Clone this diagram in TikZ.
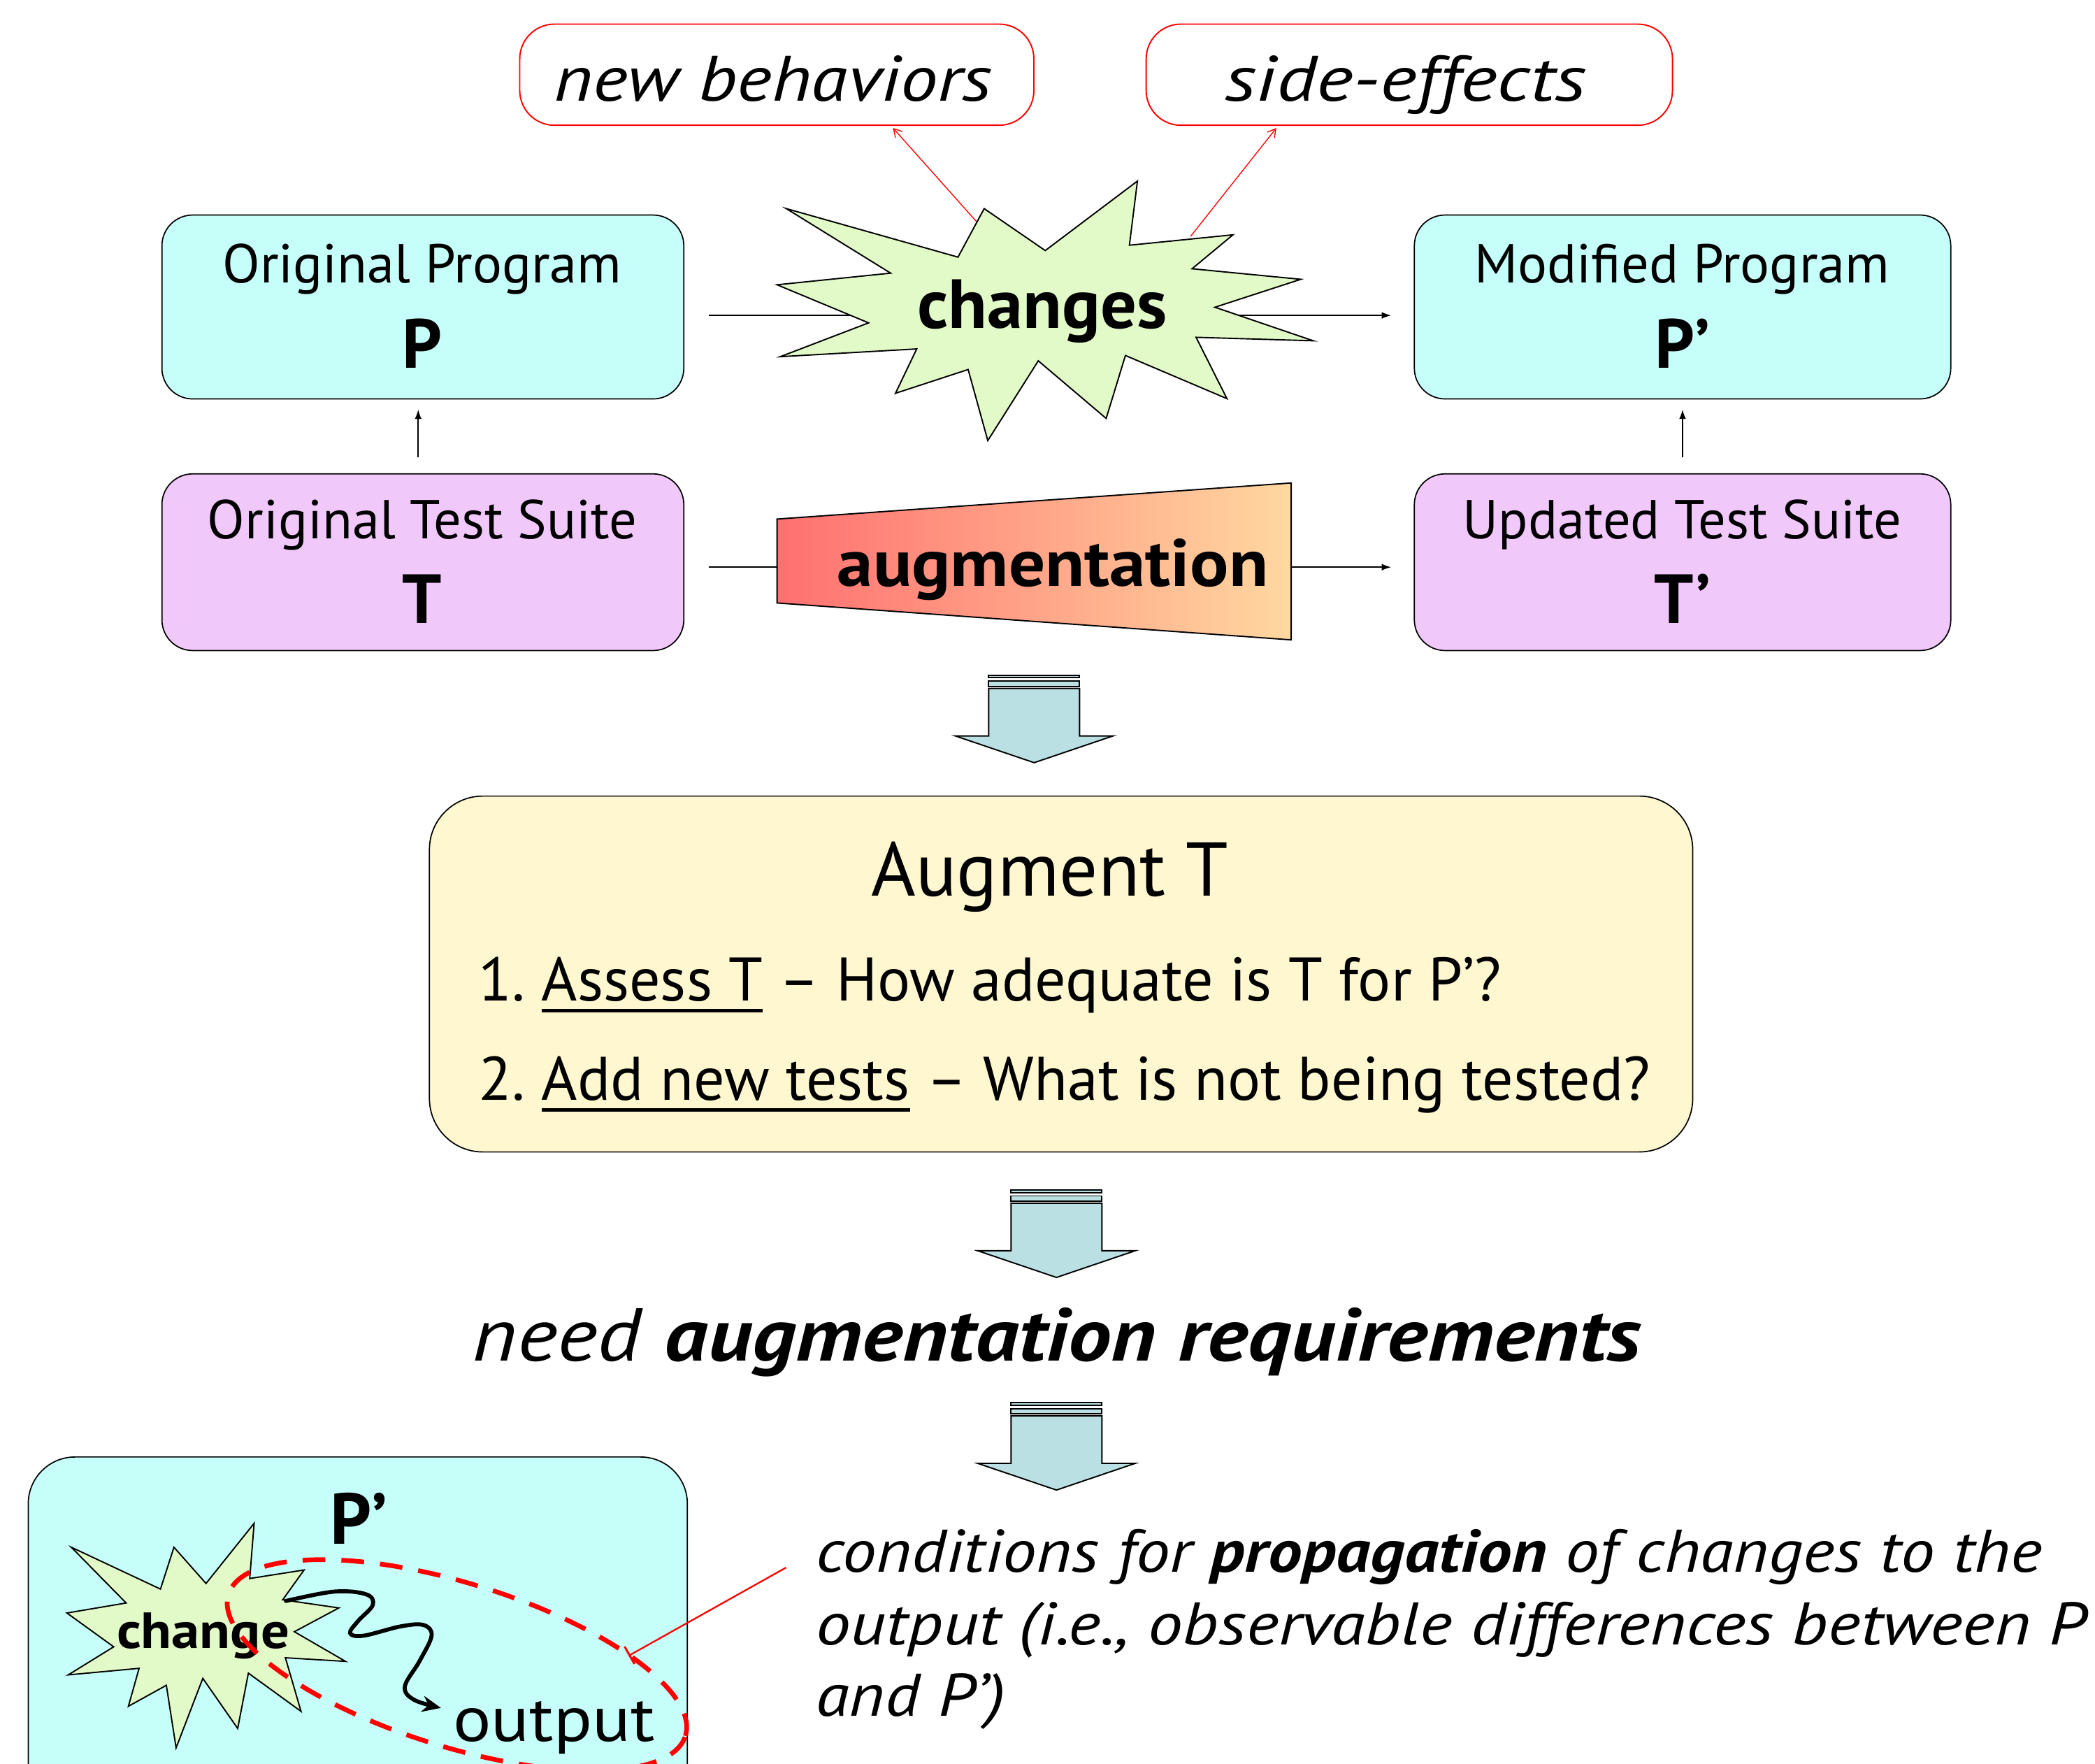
\documentclass[tikz,border=0pt]{standalone}
\usepackage{fontspec}
\usepackage{graphicx}
\setmainfont{PT Sans}
\usetikzlibrary{arrows.meta}
\definecolor{cyanbox}{RGB}{198,255,249}
\definecolor{lavbox}{RGB}{240,200,250}
\definecolor{starfill}{RGB}{226,250,200}
\definecolor{yelbox}{RGB}{255,247,208}
\definecolor{arrfill}{RGB}{187,224,227}
\definecolor{gradL}{RGB}{255,112,112}
\definecolor{gradR}{RGB}{255,216,160}
\newcommand\fs[1]{\fontsize{#1}{#1}\selectfont}
\newcommand\hs[2]{\scalebox{#1}[1]{#2}}
\newcommand\ulbar[1]{\setbox0=\hbox{#1}\vtop{\hbox{\copy0}\kern5.5pt\hrule height 2.6pt}}
\newcommand\blockarr[2]{%
  \draw[barr] (#1-34,#2-65.5) rectangle (#1+34,#2-63.5);
  \draw[barr] (#1-34,#2-61) rectangle (#1+34,#2-57);
  \draw[barr] (#1-34,#2-55.5) -- (#1+34,#2-55.5) -- (#1+34,#2-20) -- (#1+59,#2-20)
     -- (#1,#2) -- (#1-59,#2-20) -- (#1-34,#2-20) -- cycle;}
\begin{document}
\begin{tikzpicture}[x=1pt,y=-1pt,
  box/.style={draw=black, line width=0.9pt, rounded corners=23pt, inner sep=0pt},
  redbox/.style={draw=red, line width=1pt, rounded corners=26pt, fill=white, inner sep=0pt, minimum height=75.7pt},
  txt/.style={inner sep=0pt, anchor=base},
  conn/.style={line width=0.8pt, -{Latex[length=7pt,width=5pt]}},
  redarr/.style={draw=red, line width=0.7pt, -{Straight Barb[length=6pt,width=7pt]}},
  barr/.style={draw=black, line width=1pt, fill=arrfill, line join=miter},
  starsty/.style={fill=starfill, draw=black, line width=1pt, line join=miter}]
\useasboundingbox (0,0) rectangle (1568,1320);

% top red boxes
\node[redbox, minimum width=384.8pt] (nb) at (581.4,55.9) {};
\node[redbox, minimum width=393.9pt] (se) at (1054.8,55.9) {};
\node[txt, font=\fs{48}\itshape] (nbt) at (578.5,75.4) {\hs{1.165}{new behaviors}};
\node[txt, font=\fs{48}\itshape] (set) at (1052,75.4) {\hs{1.23}{side-effects}};

% program / test boxes
\node[box, fill=cyanbox, minimum width=390.6pt, minimum height=137.6pt] (op) at (316.5,229.7) {};
\node[box, fill=cyanbox, minimum width=401.5pt, minimum height=137.6pt] (mp) at (1259.3,229.7) {};
\node[box, fill=lavbox, minimum width=390.6pt, minimum height=132.2pt] (ot) at (316.5,420.7) {};
\node[box, fill=lavbox, minimum width=401.5pt, minimum height=132.2pt] (ut) at (1259.3,420.7) {};

\node[txt, font=\fs{41}] (opt) at (316,211.5) {Original Program};
\node[txt, font=\fs{52}\bfseries] (opp) at (316,275.4) {P};
\node[txt, font=\fs{41}] (ott) at (316,403) {Original Test Suite};
\node[txt, font=\fs{52}\bfseries] (otp) at (316,466.3) {T};
\node[txt, font=\fs{41}] (mpt) at (1259,211.5) {Modified Program};
\node[txt, font=\fs{52}\bfseries] (mpp) at (1259.3,275.4) {P’};
\node[txt, font=\fs{41}] (utt) at (1259,403) {Updated Test Suite};
\node[txt, font=\fs{52}\bfseries] (utp) at (1259.3,466.3) {T’};

% connectors
\draw[conn, shorten <=18.2pt, shorten >=16.9pt] ([yshift=-6.3pt]op.east) -- ([yshift=-6.3pt]mp.west);
\draw[conn, shorten <=18.2pt, shorten >=16.9pt] ([yshift=-3.7pt]ot.east) -- ([yshift=-3.7pt]ut.west);
\draw[conn, shorten <=12pt, shorten >=7.5pt] ([xshift=-3.5pt]ot.north) -- ([xshift=-3.5pt]op.south);
\draw[conn, shorten <=12pt, shorten >=7.5pt] (ut.north) -- (mp.south);

\coordinate (s1) at (731,166);
\coordinate (s2) at (891,177);
\draw[redarr, shorten >=2pt] (s1) -- ([xshift=85.6pt]nb.south);
\draw[redarr, shorten >=2pt] (s2) -- ([xshift=-98.3pt]se.south);

% changes star
\filldraw[starsty] (588.5,156.1) -- (717.0,192.4) -- (736.6,156.1) -- (782.3,187.5)
  -- (851.3,135.5) -- (845.3,183.5) -- (922.8,175.7) -- (892.2,201.1) -- (973.6,209)
  -- (909.3,229.9) -- (982.9,255) -- (895.2,252.4) -- (918.3,298.3) -- (842.3,266)
  -- (827.9,313.1) -- (777.1,270) -- (739.3,329.7) -- (724.6,276.5) -- (670.2,294.3)
  -- (686.1,261.1) -- (584,266.9) -- (650.1,241.6) -- (581.6,213.1) -- (666.6,204.4) -- cycle;
\node[txt, font=\fs{52}\bfseries] (chg) at (780,245.6) {\hs{1.03}{changes}};

% augmentation trapezoid
\shadedraw[left color=gradL, right color=gradR, draw=black, line width=1pt]
  (581.6,388.4) -- (966.4,361.4) -- (966.4,478.8) -- (581.6,451.2) -- cycle;
\node[txt, font=\fs{50}\bfseries] (augw) at (788,438.7) {\hs{1.08}{augmentation}};

% block arrows
\blockarr{774}{570.7}
\blockarr{790.7}{955.9}
\blockarr{790.7}{1115}

% Augment T box
\node[box, fill=yelbox, rounded corners=40pt, minimum width=945.5pt, minimum height=266.3pt] (aug) at (794.15,728.85) {};
\node[txt, font=\fs{57}] (augt) at (785.7,670.7) {Augment T};
\node[txt, anchor=base west, font=\fs{46}] (l1) at (358,749) {1.\ \ulbar{Assess T} -- How adequate is T for P’?};
\node[txt, anchor=base west, font=\fs{46}] (l2) at (358,823) {2.\ \ulbar{Add new tests} -- What is not being tested?};

% need ...
\node[txt, font=\fs{56}\itshape] (need) at (791,1018.3) {\hs{1.155}{need \textbf{augmentation requirements}}};

% bottom box
\node[box, fill=cyanbox, rounded corners=35pt, minimum width=493.3pt, minimum height=300pt, anchor=north west] (pb) at (20.7,1089.8) {};
\filldraw[starsty] (53.4,1157.8) -- (120.1,1189.1) -- (130.2,1157.8) -- (154.2,1184.9)
  -- (190.2,1139.9) -- (186.9,1181.2) -- (227.6,1174.8) -- (211.6,1197.1) -- (253.6,1203.2)
  -- (220.3,1221) -- (258.6,1243.2) -- (213.6,1240.5) -- (225.3,1280.6) -- (185.9,1252)
  -- (177.9,1293.4) -- (151.8,1255.9) -- (131.8,1307.9) -- (124.5,1261.1) -- (96.1,1276.8)
  -- (104.1,1248.4) -- (51.1,1253.3) -- (85.1,1232.3) -- (50.1,1207) -- (94.4,1199.5) -- cycle;
\node[txt, font=\fs{38}\bfseries] (chs) at (152,1233.2) {\hs{1.11}{change}};
\node[txt, font=\fs{54}\bfseries] (pp) at (268.6,1155.6) {P’};
\node[txt, font=\fs{48}] (outp) at (414.7,1303) {\hs{1.11}{output}};

\draw[red, line width=3.5pt, dash pattern=on 17pt off 12pt, rotate around={-17.2:(342,1246)}]
  (342,1246) ellipse [x radius=179pt, y radius=61.3pt];

\coordinate (sq0) at (214,1198);
\draw[line width=3pt, line cap=round, -{Stealth[length=14pt,width=12pt]}] plot[smooth, tension=0.6] coordinates
  {(214,1198) (250,1191) (274,1193) (279,1201) (268,1213) (262,1222) (272,1224) (300,1217)
   (317,1216) (323,1224) (314,1243) (303,1262) (310,1272) (330,1278)};

\coordinate (ctx) at (588.3,1173);
\coordinate (cel) at (470.5,1239);
\draw[red, line width=1.2pt, -{Bar[width=15pt,line width=1.5pt]}] (ctx) -- (cel);

\node[txt, anchor=base west, font=\fs{45}\itshape] (c1) at (610.4,1176.5) {\hs{1.13}{conditions for \textbf{propagation} of changes to the}};
\node[txt, anchor=base west, font=\fs{45}\itshape] (c2) at (610.4,1230.6) {\hs{1.157}{output (i.e., observable differences between P}};
\node[txt, anchor=base west, font=\fs{45}\itshape] (c3) at (610.4,1284) {\hs{1.14}{and P’)}};
\end{tikzpicture}
\end{document}
